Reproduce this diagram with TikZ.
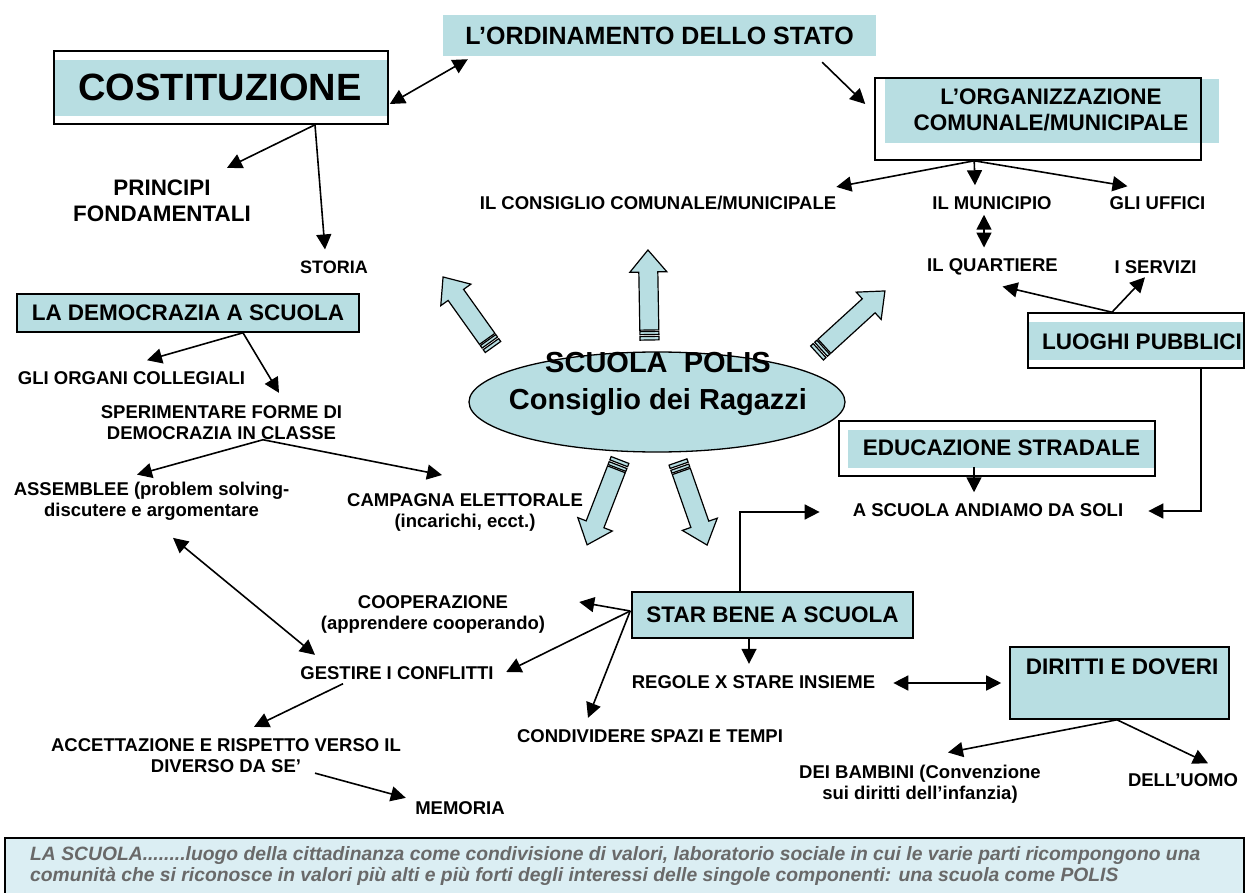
\documentclass[tikz,border=0pt]{standalone}
\usepackage{fontspec}
\setmainfont{Liberation Sans}
\usetikzlibrary{arrows.meta,calc,shapes.geometric}
\definecolor{lb}{RGB}{184,222,226}
\definecolor{lbb}{RGB}{219,238,243}
\definecolor{gtext}{RGB}{105,105,105}
\tikzset{
  pics/sarrow/.style={code={
    \draw[line width=1.2pt, fill=lb, line join=miter] (10,-9.5) -- ({#1-22},-9.5) -- ({#1-22},-18.5) -- (#1,0) -- ({#1-22},18.5) -- ({#1-22},9.5) -- (10,9.5) -- cycle;
    \draw[line width=1.2pt, fill=lb] (0,-9.5) rectangle (3.5,9.5);
    \draw[line width=1.2pt, fill=lb] (5.5,-9.5) rectangle (8.5,9.5);
  }}
}
\begin{document}
\begin{tikzpicture}[x=1pt,y=-1pt,
  lbl/.style={font=\fontsize{18.5}{21}\selectfont\bfseries, align=center, inner sep=0pt},
  big/.style={font=\fontsize{22.5}{26}\selectfont\bfseries, align=center, inner sep=0pt},
  conn/.style={line width=1.6pt, -{Triangle[length=15pt,width=15pt]}},
  dconn/.style={line width=1.6pt, {Triangle[length=15pt,width=15pt]}-{Triangle[length=15pt,width=15pt]}},
  frame/.style={draw, line width=1.6pt, inner sep=0pt},
]
\useasboundingbox (0,0) rectangle (1245,893);

% COSTITUZIONE
\fill[lb] (54,60) rectangle (388,116);
\node[frame, minimum width=334pt, minimum height=73pt] (cost) at (221,87.5) {};
\node[font=\fontsize{38}{40}\selectfont\bfseries, inner sep=0pt] (costT) at (220,87.5) {COSTITUZIONE};

% ORDINAMENTO
\node[fill=lb, minimum width=433pt, minimum height=41pt, inner sep=0pt, font=\fontsize{25}{28}\selectfont\bfseries] (ordin) at (659.5,35.5) {L’ORDINAMENTO DELLO STATO};

% ORGANIZZAZIONE
\fill[lb] (885,79) rectangle (1219,143);
\node[frame, minimum width=326pt, minimum height=82pt] (org) at (1038,119) {};
\node[big] (orgT) at (1051,110) {L’ORGANIZZAZIONE\\COMUNALE/MUNICIPALE};

\node[font=\fontsize{22.4}{26}\selectfont\bfseries, align=center, inner sep=0pt] (princ) at (162,201) {PRINCIPI\\FONDAMENTALI};
\node[font=\fontsize{18}{21}\selectfont\bfseries, inner sep=0pt] (storia) at (334,267) {STORIA};
\node[lbl] (consig) at (658,203) {IL CONSIGLIO COMUNALE/MUNICIPALE};
\node[lbl] (munic) at (992,203) {IL MUNICIPIO};
\node[lbl] (uffici) at (1157.5,203) {GLI UFFICI};
\node[lbl] (quart) at (992.5,267) {IL QUARTIERE};
\node[lbl] (servizi) at (1155.5,267) {I SERVIZI};

% LUOGHI PUBBLICI
\fill[lb] (1028,322) rectangle (1244,360);
\node[frame, minimum width=216pt, minimum height=55pt] (luoghi) at (1136,340.5) {};
\node[big] (luoghiT) at (1142,342) {LUOGHI PUBBLICI};

% EDUCAZIONE STRADALE
\fill[lb] (848,430) rectangle (1155,468);
\node[frame, minimum width=316pt, minimum height=55pt] (edu) at (997,448.5) {};
\node[big] (eduT) at (1001.5,448) {EDUCAZIONE STRADALE};
\node[lbl] (soli) at (988,510) {A SCUOLA ANDIAMO DA SOLI};

% DEMOCRAZIA
\node[frame, fill=lb, minimum width=342pt, minimum height=38pt, big] (demo) at (188,313) {LA DEMOCRAZIA A SCUOLA};
\node[lbl] (organi) at (131.5,378) {GLI ORGANI COLLEGIALI};
\node[lbl] (sperim) at (221.5,422.5) {SPERIMENTARE FORME DI\\DEMOCRAZIA IN CLASSE};
\node[lbl] (assem) at (151.5,501) {ASSEMBLEE (problem solving-\\discutere e argomentare};
\node[lbl] (campagna) at (465,512.5) {CAMPAGNA ELETTORALE\\(incarichi, ecct.)};
\node[lbl] (cooper) at (433,614) {COOPERAZIONE\\(apprendere cooperando)};
\node[lbl] (gestire) at (397,673) {GESTIRE I CONFLITTI};
\node[lbl] (accett) at (226,755.5) {ACCETTAZIONE E RISPETTO VERSO IL\\DIVERSO DA SE’};
\node[lbl] (memoria) at (460,808) {MEMORIA};
\node[lbl] (condiv) at (650,736) {CONDIVIDERE SPAZI E TEMPI};

% STAR BENE
\node[frame, fill=lb, minimum width=281pt, minimum height=46pt, big] (star) at (772.5,615) {STAR BENE A SCUOLA};
\node[lbl] (regole) at (753.5,682) {REGOLE X STARE INSIEME};

% DIRITTI
\node[frame, fill=lb, minimum width=219pt, minimum height=72pt] (diritti) at (1119.5,683) {};
\node[big] (dirT) at (1122,667) {DIRITTI E DOVERI};
\node[lbl] (bambini) at (920,783.8) {DEI BAMBINI (Convenzione\\sui diritti dell’infanzia)};
\node[lbl] (uomo) at (1183,780) {DELL’UOMO};

% central ellipse
\node[ellipse, draw, line width=1.3pt, fill=lb, minimum width=376pt, minimum height=100pt, inner sep=0pt] (polis) at (657,402) {};
\node[font=\fontsize{29}{37}\selectfont\bfseries, align=center, inner sep=0pt] (polisT) at (658,383.5) {SCUOLA\ \ POLIS\\Consiglio dei Ragazzi};

% block arrows
\pic[rotate=125.5] (arrA) at (493,347) {sarrow=86};
\pic[rotate=91] (arrB) at (649.5,340) {sarrow=90};
\pic[rotate=42.4] (arrC) at (817,353) {sarrow=92};
\pic[rotate=-111.2] (arrD) at (620,460) {sarrow=91};
\pic[rotate=-70.7] (arrE) at (678,462) {sarrow=88};

% bottom box
\node[draw, line width=1.6pt, fill=lbb, minimum width=1239pt, minimum height=60pt, anchor=north west, inner sep=0pt] (bottom) at (4,837) {};
\node[font=\fontsize{19.3}{20.5}\selectfont\bfseries\itshape, text=gtext, align=left, anchor=west, inner sep=0pt] (bottomT) at (30,866) {LA SCUOLA........luogo della cittadinanza come condivisione di valori, laboratorio sociale in cui le varie parti ricompongono una\\comunità che si riconosce in valori più alti e più forti degli interessi delle singole componenti: una scuola come POLIS};

% connectors
\draw[dconn] ($(cost.east)+(1,16.5)$) -- ($(ordin.south west)+(25,3)$);
\draw[conn] ($(ordin.south east)+(-54,6)$) -- ($(org.west)+(-9,-15)$);
\draw[conn] ($(cost.south)+(94,0)$) -- ($(princ.north)+(65,-12)$);
\draw[conn] ($(cost.south)+(94,0)$) -- ($(storia.north)+(-9,-11)$);
\draw[conn] ($(org.south west)+(100,0)$) -- ($(consig.north east)+(0,-9)$);
\draw[conn] ($(org.south west)+(100,0)$) -- ($(munic.north)+(-17,-11)$);
\draw[conn] ($(org.south west)+(100,0)$) -- ($(uffici.north west)+(18,-10)$);
\draw[dconn] ($(munic.south)+(-8,5)$) -- ($(quart.north)+(-8.5,-11)$);
\draw[conn] ($(luoghi.north)+(-24,0)$) -- ($(quart.south)+(10,11)$);
\draw[conn] ($(luoghi.north)+(-24,0)$) -- ($(servizi.south)+(-10.5,3.5)$);
\draw[conn] ($(luoghi.south)+(65,0)$) |- ($(soli.east)+(25,1)$);
\draw[conn] ($(edu.south)+(-23,-10)$) -- ($(soli.north)+(-14,-11)$);
\draw[conn] ($(star.north)+(-32.5,0)$) |- ($(soli.west)+(-33,2)$);
\draw[conn] ($(demo.south)+(55,0)$) -- ($(organi.north)+(15.5,-11)$);
\draw[conn] ($(demo.south)+(55,0)$) -- ($(sperim.north)+(57.5,-12.4)$);
\draw[conn] ($(sperim.south)+(41.5,0)$) -- ($(assem.north)+(-14.5,-7)$);
\draw[conn] ($(sperim.south)+(41.5,0)$) -- ($(campagna.north)+(-23,-18.4)$);
\draw[dconn] ($(assem.south)+(21.5,17.5)$) -- ($(gestire.north)+(-82,-11.4)$);
\draw[conn] ($(gestire.south)+(-54,4)$) -- ($(accett.north)+(28,-11.4)$);
\draw[conn] ($(accett.south)+(89,0.4)$) -- ($(memoria.north west)+(-9.3,-3.4)$);
\draw[conn] ($(star.west)+(-1,-4)$) -- ($(cooper.east)+(34,-12)$);
\draw[conn] ($(star.west)+(-1,-4)$) -- ($(gestire.east)+(12.4,-1)$);
\draw[conn] ($(star.west)+(-1,-4)$) -- ($(condiv.north)+(-62,-11.4)$);
\draw[conn] ($(star.south)+(-23.5,0)$) -- ($(regole.north)+(-4.5,-11.4)$);
\draw[dconn] ($(regole.east)+(18,1)$) -- ($(diritti.west)+(-8,0)$);
\draw[conn] ($(diritti.south)+(-2.5,0)$) -- ($(bambini.north)+(28,-12)$);
\draw[conn] ($(diritti.south)+(-2.5,0)$) -- ($(uomo.north)+(25,-10)$);
\end{tikzpicture}
\end{document}
